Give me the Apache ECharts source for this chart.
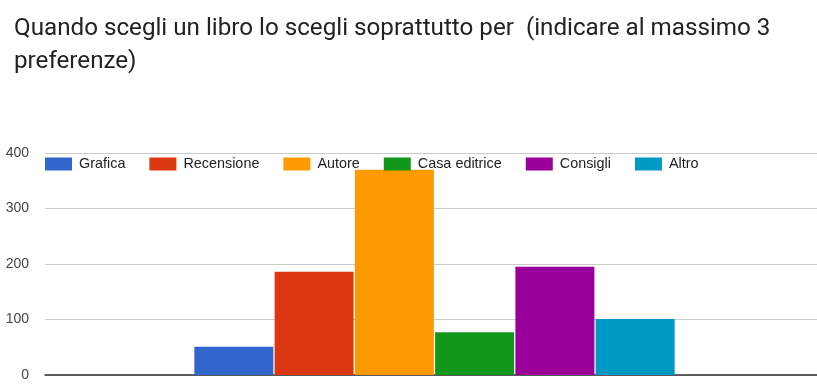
<!DOCTYPE html>
<html>
<head>
<meta charset="utf-8">
<script src="https://cdn.jsdelivr.net/npm/echarts@6/dist/echarts.min.js"></script>
<style>
  html, body { margin: 0; padding: 0; background: #fff; overflow: hidden; }
  #wrap { width: 817px; height: 385px; overflow: hidden; }
  /* plot area runs slightly past the visible right edge */
  #chart { width: 824px; height: 385px; }
</style>
</head>
<body>
<div id="wrap"><div id="chart"></div></div>
<script>
// Survey answers: how a book is chosen (max 3 choices)
const titleText = 'Quando scegli un libro lo scegli soprattutto per  (indicare al massimo 3\npreferenze)';
const seriesNames = ['Grafica', 'Recensione', 'Autore', 'Casa editrice', 'Consigli', 'Altro'];
const seriesValues = [51, 186, 370, 77, 195, 101];
const seriesColors = ['#3366cc', '#dc3912', '#ff9900', '#109618', '#990099', '#0099c6'];
const yTicks = { min: 0, max: 400, step: 100 };

const chart = echarts.init(document.getElementById('chart'), null, { renderer: 'canvas' });

const series = seriesNames.map((name, i) => ({
  name: name,
  type: 'bar',
  data: [seriesValues[i]],
  barWidth: 79,
  barGap: '1.6%',
  itemStyle: { color: seriesColors[i] },
  emphasis: { disabled: true }
}));

chart.setOption({
  animation: false,
  backgroundColor: '#ffffff',
  title: {
    text: titleText,
    left: 9,
    top: 7,
    textStyle: {
      fontFamily: 'Roboto',
      fontSize: 24.2,
      fontWeight: 'normal',
      color: '#222222',
      lineHeight: 33
    }
  },
  legend: {
    left: 45,
    top: 157,
    padding: 0,
    itemWidth: 27,
    itemHeight: 13,
    itemGap: 24,
    icon: 'rect',
    textStyle: {
      fontFamily: 'Liberation Sans, Arial, sans-serif',
      fontSize: 14.4,
      color: '#222222',
      padding: [0, 0, 0, 2]
    },
    data: seriesNames
  },
  grid: {
    left: 45,
    right: 0,
    top: 153,
    bottom: 10,
    containLabel: false
  },
  xAxis: {
    type: 'category',
    data: [''],
    axisLine: { show: true, lineStyle: { color: '#333333', width: 1.5 } },
    axisTick: { show: false },
    axisLabel: { show: false },
    splitLine: { show: false }
  },
  yAxis: {
    type: 'value',
    min: yTicks.min,
    max: yTicks.max,
    interval: yTicks.step,
    axisLine: { show: false },
    axisTick: { show: false },
    axisLabel: {
      fontFamily: 'Liberation Sans, Arial, sans-serif',
      fontSize: 14,
      color: '#444444',
      margin: 16
    },
    splitLine: { lineStyle: { color: '#cccccc', width: 1 } }
  },
  series: series
});
</script>
</body>
</html>
